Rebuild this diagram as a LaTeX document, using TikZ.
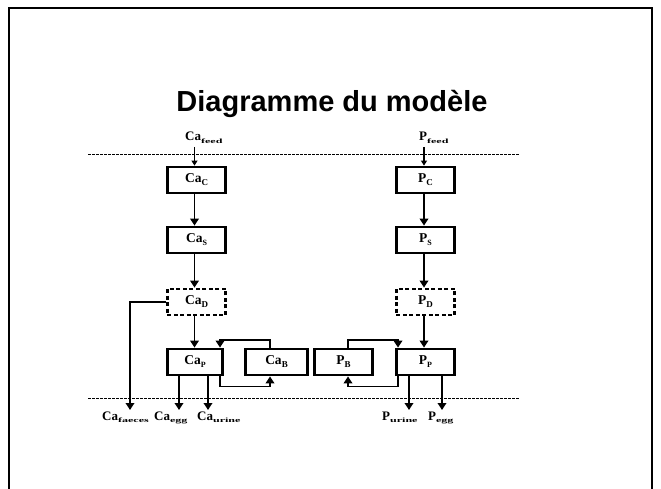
\documentclass[tikz,border=0pt]{standalone}
\usepackage{fontspec}
\usepackage{graphicx}
\setmainfont{Liberation Serif}
\newfontfamily\titlefont{Liberation Sans}
\usetikzlibrary{arrows.meta}
\newcommand\lsub[2][9]{\raisebox{-3pt}{\fontsize{#1}{#1}\selectfont\bfseries #2}}
\newcommand\ssub[1]{\raisebox{-2.5pt}{\scalebox{1.85}[1]{\fontsize{6.5}{6.5}\selectfont\bfseries #1}}}
\begin{document}
\begin{tikzpicture}[x=1pt,y=-1pt,
  box/.style={draw, line width=2.8pt, minimum height=26pt, minimum width=58.4pt, inner sep=0pt, font=\fontsize{13.5}{13.5}\selectfont\bfseries},
  dbox/.style={box, dash pattern=on 4pt off 2.5pt},
  arr/.style={line width=1.8pt, -{Triangle[length=7pt,width=8.5pt]}},
  farr/.style={line width=1.1pt, -{Triangle[length=5pt,width=6pt]}},
  hline/.style={line width=1pt, dash pattern=on 3pt off 1pt},
  lbl/.style={anchor=base west, inner sep=0pt, font=\fontsize{13}{13}\selectfont\bfseries}]
\useasboundingbox (0,0) rectangle (661,489);
\fill[white] (0,0) rectangle (661,489);
\draw[line width=2pt] (9,491) -- (9,8) -- (652,8) -- (652,491);
\node[anchor=base, inner sep=0pt, font=\titlefont\bfseries\fontsize{29}{29}\selectfont] (title) at (332,112) {Diagramme du modèle};
% dashed boundaries
\coordinate (tl) at (88,155); \coordinate (tr) at (520,155);
\coordinate (bl) at (88,398); \coordinate (br) at (520,398);
\draw[hline] (tl) -- (tr);
\draw[hline] (bl) -- (br);
% left column
\node[lbl] (Cafeed) at (185,141) {Ca\ssub{feed}};
\node[box] (CaC) at (196.5,180) {Ca\lsub{C}};
\node[box] (CaS) at (196.5,240) {Ca\lsub[8]{S}};
\node[dbox] (CaD) at (196.5,302) {Ca\lsub{D}};
\node[box, minimum width=55.7pt] (CaP) at (195,362) {Ca\lsub[8]{P}};
\node[box, minimum width=62.4pt] (CaB) at (276.5,362) {Ca\lsub{B}};
\draw[farr] ([xshift=-2pt]CaC.north |- Cafeed.south) ++(0,3) -- ([xshift=-2pt]CaC.north);
\draw[arr] ([xshift=-2pt]CaC.south) -- ([xshift=-2pt]CaS.north);
\draw[arr] ([xshift=-2pt]CaS.south) -- ([xshift=-2pt]CaD.north);
\draw[arr] ([xshift=-2pt]CaD.south) -- ([xshift=-2pt]CaD.south |- CaP.north);
\draw[arr] ([xshift=-6.5pt]CaB.north) -- ++(0,-8) -| ([xshift=25pt]CaP.north);
\draw[arr] ([xshift=25pt]CaP.south) -- ++(0,10) -| ([xshift=-6.5pt]CaB.south);
\coordinate (fend) at (130,410);
\coordinate (eend) at (179,410);
\coordinate (uend) at (208,410);
\draw[arr] (CaD.west) -| (fend);
\draw[arr] (CaP.south -| eend) -- (eend);
\draw[arr] (CaP.south -| uend) -- (uend);
\node[lbl] (Cafaeces) at (102,420) {Ca\ssub{faeces}};
\node[lbl] (Caegg) at (154,420) {Ca\ssub{egg}};
\node[lbl] (Caurine) at (197,420) {Ca\ssub{urine}};
% right column
\node[lbl] (Pfeed) at (419,141) {P\ssub{feed}};
\node[box] (PC) at (425.5,180) {P\lsub{C}};
\node[box] (PS) at (425.5,240) {P\lsub[8]{S}};
\node[dbox] (PD) at (425.5,302) {P\lsub{D}};
\node[box] (PP) at (425.5,362) {P\lsub[8]{P}};
\node[box] (PB) at (343.5,362) {P\lsub{B}};
\draw[farr] ([xshift=-1.5pt]PC.north |- Pfeed.south) ++(0,3) -- ([xshift=-1.5pt]PC.north);
\draw[arr] ([xshift=-1.5pt]PC.south) -- ([xshift=-1.5pt]PS.north);
\draw[arr] ([xshift=-1.5pt]PS.south) -- ([xshift=-1.5pt]PD.north);
\draw[arr] ([xshift=-1.5pt]PD.south) -- ([xshift=-1.5pt]PP.north);
\draw[arr] ([xshift=4.5pt]PB.north) -- ++(0,-8) -| ([xshift=-27.5pt]PP.north);
\draw[arr] ([xshift=-27.5pt]PP.south) -- ++(0,10) -| ([xshift=4.5pt]PB.south);
\coordinate (puend) at (409,410);
\coordinate (peend) at (442,410);
\draw[arr] (PP.south -| puend) -- (puend);
\draw[arr] (PP.south -| peend) -- (peend);
\node[lbl] (Purine) at (382,420) {P\ssub{urine}};
\node[lbl] (Pegg) at (428,420) {P\ssub{egg}};
\end{tikzpicture}
\end{document}
